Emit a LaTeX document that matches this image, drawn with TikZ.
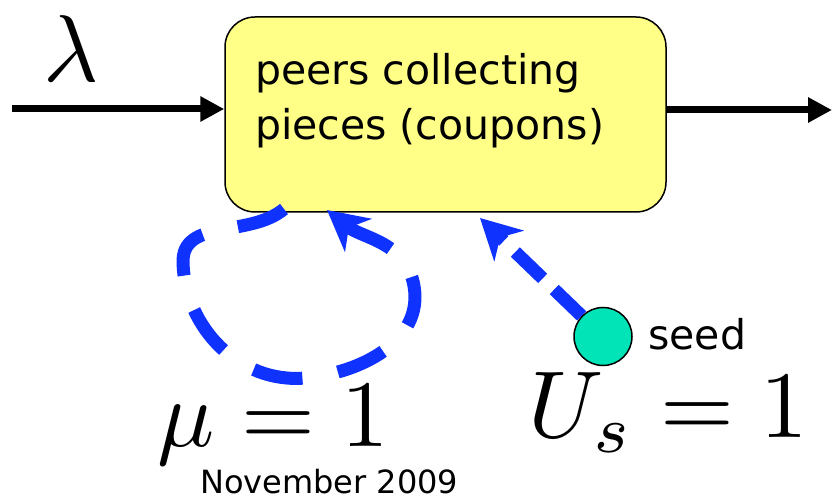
\documentclass[tikz,border=0pt]{standalone}
\usepackage{fontspec}
\usepackage{tikz}
\usetikzlibrary{arrows.meta,positioning}
\newfontfamily\boxfont{DejaVu Sans}
\definecolor{poolyellow}{RGB}{255,255,136}
\definecolor{loopblue}{RGB}{16,50,255}
\definecolor{seedgreen}{RGB}{0,228,184}

\begin{document}
\begin{tikzpicture}
  [x=1pt,y=1pt,
   every node/.style={inner sep=0pt},
   poolbox/.style={draw,line width=1.5pt,fill=poolyellow,rounded corners=30pt,
     minimum width=441pt,minimum height=195pt},
   flow/.style={line width=7pt,-{Triangle[length=24pt,width=24pt]}},
   blueflow/.style={loopblue,line width=13pt,
     -{Stealth[length=40pt,width=42pt,inset=12pt]}},
   seedball/.style={circle,draw,line width=1.5pt,fill=seedgreen,minimum size=58pt},
   bigmath/.style={scale=9.5}]
  \useasboundingbox (0,0) rectangle (832,501);

  \node[poolbox] (pool) at (445.5,386.5) {};
  \node[anchor=base west,align=left,font=\boxfont\fontsize{41}{55}\selectfont]
    (pooltxt) at (255,361) {peers collecting\\pieces (coupons)};

  \coordinate (src) at (12,392);
  \coordinate (sink) at (832,391);
  \node[bigmath,anchor=base] (lam) at (71,419) {$\lambda$};
  \draw[flow] (src) -- (pool.west |- src);
  \draw[flow] (pool.east |- sink) -- (sink);

  % departures of finished peers at rate mu
  \coordinate (loopout) at (284,292);
  \coordinate (loopin) at (327,291);
  \draw[blueflow,dash pattern=on 50pt off 36pt]
    (loopout) to[out=220,in=92] (183,238) to[out=-88,in=185] (305,123)
    to[out=5,in=-80] (414,215) to[out=100,in=-39] (loopin);
  \node[bigmath,anchor=base] (mu) at (273.5,54) {$\mu=1$};

  % the seed
  \node[seedball] (seed) at (603,164.5) {};
  \node[anchor=base west,font=\boxfont\fontsize{41}{41}\selectfont]
    (seedlbl) at (648,152) {seed};
  \coordinate (seedin) at (480,283);
  \draw[blueflow,dash pattern=on 38pt off 16pt] (seed) -- (seedin);
  \node[bigmath,anchor=base] (us) at (668,63) {$U_s=1$};

  \node[anchor=base west,font=\boxfont\fontsize{32}{32}\selectfont]
    (date) at (200,8) {November 2009};
\end{tikzpicture}
\end{document}
